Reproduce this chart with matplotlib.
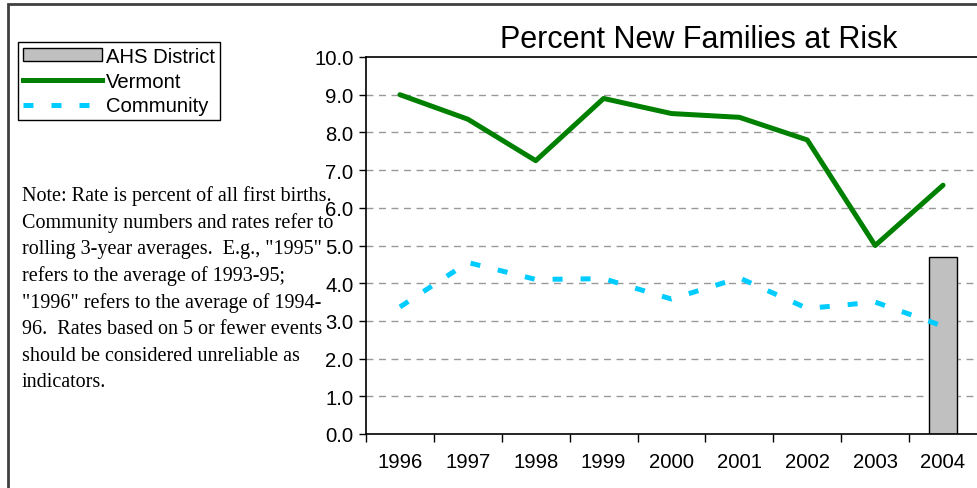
import numpy as np
import matplotlib
matplotlib.use('Agg')
import matplotlib.pyplot as plt
from matplotlib.patches import Patch, Rectangle
from matplotlib.lines import Line2D
from matplotlib.ticker import FormatStrFormatter, MultipleLocator, FixedLocator

years = ['1996', '1997', '1998', '1999', '2000', '2001', '2002', '2003', '2004']
vermont = [9.0, 8.35, 7.25, 8.9, 8.5, 8.4, 7.8, 5.0, 6.6]
community = [3.37, 4.55, 4.1, 4.12, 3.58, 4.14, 3.33, 3.5, 2.86]
ahs_year = '2004'
ahs_value = 4.7

note_lines = [
    'Note: Rate is percent of all first births.',
    'Community numbers and rates refer to',
    'rolling 3-year averages.  E.g., "1995"',
    'refers to the average of 1993-95;',
    '"1996" refers to the average of 1994-',
    '96.  Rates based on 5 or fewer events',
    'should be considered unreliable as',
    'indicators.',
]

plt.rcParams['font.family'] = ['Liberation Sans', 'DejaVu Sans']

fig = plt.figure(figsize=(9.77, 4.89), dpi=100)
ax = fig.add_axes([366/977, 1 - 435/489, (977 - 366)/977, (435 - 58)/489])

x = np.arange(len(years))
ax.bar(years.index(ahs_year), ahs_value, width=0.41, color='#c0c0c0',
       edgecolor='black', linewidth=1, zorder=2)
ax.plot(x, vermont, color='#008000', lw=3.6, solid_joinstyle='round',
        solid_capstyle='round', zorder=3)
ax.plot(x, community, color='#00ccff', lw=3.6, dashes=(2.0, 3.6),
        dash_capstyle='butt', zorder=3)

ax.set_xlim(-0.5, len(years) - 0.5)
ax.set_ylim(0, 10)
ax.yaxis.set_major_locator(MultipleLocator(1))
ax.yaxis.set_major_formatter(FormatStrFormatter('%.1f'))
for yv in range(1, 10):
    ax.axhline(yv, color='#999999', lw=1, dashes=(5, 4), zorder=1)

# tick marks between categories, labels at category centres
ax.xaxis.set_major_locator(FixedLocator(np.arange(-0.5, len(years) - 0.5, 1)))
ax.xaxis.set_major_formatter(plt.NullFormatter())
ax.xaxis.set_minor_locator(FixedLocator(x))
ax.set_xticks(x, years, minor=True)
ax.tick_params(axis='x', which='major', direction='out', length=6, width=1)
ax.tick_params(axis='x', which='minor', length=0, pad=13, labelsize=14.6)
ax.tick_params(axis='y', direction='out', length=5, width=1, labelsize=14.6, pad=4)

for s in ['left', 'bottom', 'top']:
    ax.spines[s].set_linewidth(1.2)
    ax.spines[s].set_color('black')
ax.spines['right'].set_color('#dddddd')

fig.text(699/977, 1 - 40/489, 'Percent New Families at Risk', fontsize=22,
         ha='center', va='center')

handles = [
    Patch(facecolor='#c0c0c0', edgecolor='black', lw=1),
    Line2D([], [], color='#008000', lw=3.6),
    Line2D([], [], color='#00ccff', lw=3.6, dashes=(2.0, 3.6), dash_capstyle='butt'),
]
leg = fig.legend(handles, ['AHS District', 'Vermont', 'Community'],
                 loc='upper left', bbox_to_anchor=(18/977, 1 - 43/489),
                 bbox_transform=fig.transFigure, fontsize=14.6, frameon=True,
                 fancybox=False, edgecolor='black', framealpha=1,
                 handlelength=3.9, handletextpad=0.2, labelspacing=0.28,
                 borderpad=0.25, borderaxespad=0, handleheight=0.6)
leg.get_frame().set_linewidth(1)

for i, line in enumerate(note_lines):
    fig.text(22/977, 1 - (196 + i * 26.7)/489, line, fontsize=14.5,
             family='Liberation Serif', ha='left', va='center')

# outer border of the chart area
fig.add_artist(Rectangle((8/977, -0.2), 1.5, 1.2 - 5/489,
                         transform=fig.transFigure, fill=False,
                         edgecolor='#404040', lw=2))

fig.savefig('out.png', dpi=100)
